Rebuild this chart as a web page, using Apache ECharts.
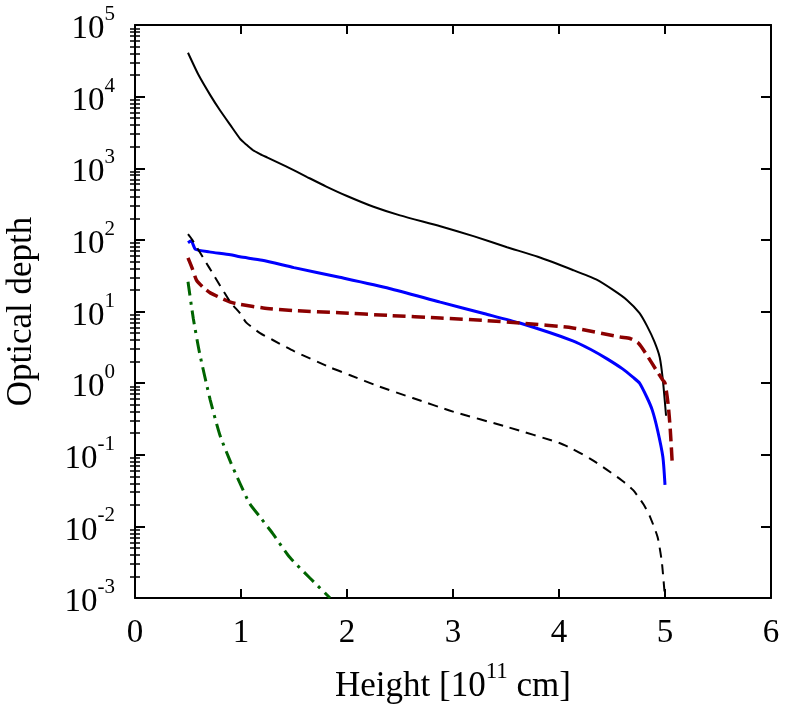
<!DOCTYPE html>
<html>
<head>
<meta charset="utf-8">
<script src="https://cdn.jsdelivr.net/npm/echarts@6/dist/echarts.min.js"></script>
<style>
  * { margin: 0; padding: 0; }
  html, body { background: #fff; }
  #chart { width: 788px; height: 711px; }
</style>
</head>
<body>
<div id="chart"></div>
<script>
// data: [height, optical depth]
var totalSolid = [
  [0.5, 41000], [0.6, 20000], [0.71, 10500], [0.8, 6500], [0.9, 4000],
  [0.99, 2600], [1.05, 2140], [1.11, 1800], [1.18, 1580], [1.25, 1410],
  [1.42, 1070], [1.62, 760], [1.8, 560], [2.0, 410], [2.25, 290],
  [2.5, 220], [2.88, 155], [3.2, 112], [3.51, 79], [3.8, 58], [4.13, 38],
  [4.35, 28], [4.51, 20], [4.64, 14.5], [4.76, 9.5], [4.83, 6.3],
  [4.9, 3.8], [4.95, 2.3], [4.98, 1.1], [5.01, 0.35]
];
var blueLine = [
  [0.5, 91], [0.53, 97], [0.57, 74], [0.7, 68], [0.9, 62], [0.99, 58],
  [1.2, 52], [1.5, 41], [1.93, 30], [2.4, 21], [2.88, 13.5], [3.3, 9.3],
  [3.63, 6.9], [4.13, 3.9], [4.3, 2.95], [4.45, 2.2], [4.6, 1.58],
  [4.7, 1.2], [4.76, 1.0], [4.83, 0.63], [4.88, 0.42], [4.93, 0.22],
  [4.98, 0.093], [5.0, 0.038]
];
var redDashed = [
  [0.5, 56], [0.54, 40], [0.58, 27.5], [0.64, 22], [0.71, 18.2],
  [0.9, 13.5], [0.99, 12.6], [1.21, 11.2], [1.5, 10.3], [1.93, 9.6],
  [2.4, 8.8], [2.88, 8.1], [3.3, 7.5], [3.63, 6.9], [4.13, 5.9],
  [4.58, 4.4], [4.67, 4.2], [4.75, 3.6], [4.83, 2.45], [4.92, 1.5],
  [4.98, 1.1], [5.0, 1.0], [5.03, 0.5], [5.05, 0.22], [5.07, 0.069]
];
var blackDashed = [
  [0.5, 120], [0.54, 100], [0.7, 41], [0.9, 13.5], [0.99, 9.5],
  [1.05, 7.0], [1.18, 5.0], [1.3, 4.0], [1.5, 2.8], [1.84, 1.66],
  [2.03, 1.29], [2.3, 0.9], [2.62, 0.62], [3.0, 0.40], [3.51, 0.245],
  [4.01, 0.145], [4.13, 0.12], [4.3, 0.087], [4.45, 0.062], [4.6, 0.043],
  [4.7, 0.032], [4.8, 0.02], [4.86, 0.0135], [4.93, 0.0071],
  [4.97, 0.0032], [5.0, 0.001]
];
var greenDashDot = [
  [0.5, 26], [0.55, 8], [0.61, 2.6], [0.71, 0.58], [0.8, 0.19],
  [0.9, 0.08], [0.99, 0.04], [1.08, 0.021], [1.18, 0.0135],
  [1.3, 0.0079], [1.46, 0.0037], [1.65, 0.0019], [1.84, 0.001]
];

var yMin = 1e-3, yMax = 1e5;
var xMin = 0, xMax = 6;

var font = "Liberation Serif";
// minor ticks 2..9 of each decade, as exponents on a hidden linear axis
var expMin = Math.log10(yMin), expMax = Math.log10(yMax);
var minorVals = [];
for (var e = expMin; e < expMax; e++) {
  for (var m = 2; m < 10; m++) minorVals.push(e + Math.log10(m));
}

var rich = {
  b: { fontFamily: font, fontSize: 33, color: "#000", lineHeight: 42, verticalAlign: "bottom" },
  s: { fontFamily: font, fontSize: 21, color: "#000", lineHeight: 21, verticalAlign: "top" }
};

function yAxisBase(pos) {
  return {
    type: "log", logBase: 10, min: yMin, max: yMax, position: pos,
    splitLine: { show: false },
    axisLine: { show: true, onZero: false, lineStyle: { color: "#000", width: 2 } },
    axisTick: { show: true, inside: true, length: 10, lineStyle: { color: "#000", width: 2 } },
    axisLabel: { show: false }
  };
}
function yMinorAxis(pos) {
  return {
    type: "value", min: expMin, max: expMax, position: pos,
    splitLine: { show: false },
    axisLine: { show: false },
    axisTick: { show: true, inside: true, length: 5, customValues: minorVals,
      lineStyle: { color: "#000", width: 1.5 } },
    axisLabel: { show: false }
  };
}

var chart = echarts.init(document.getElementById("chart"));

var yLeft = yAxisBase("left");
yLeft.axisLabel = {
  show: true, margin: 20,
  formatter: function (v) {
    return "{b|10}{s|" + Math.round(Math.log10(v)) + "}";
  },
  rich: rich
};
yLeft.name = "Optical depth";
yLeft.nameLocation = "middle";
yLeft.nameGap = 96;
yLeft.nameTextStyle = { fontFamily: font, fontSize: 35, color: "#000" };

var yRight = yAxisBase("right");

function xAxisBase(pos) {
  return {
    type: "value", min: xMin, max: xMax, interval: 1, position: pos,
    splitLine: { show: false },
    axisLine: { show: true, onZero: false, lineStyle: { color: "#000", width: 2 } },
    axisTick: { show: true, inside: true, length: 9, lineStyle: { color: "#000", width: 2 } },
    axisLabel: { show: false }
  };
}
var xBottom = xAxisBase("bottom");
xBottom.axisLabel = { show: true, margin: 19, fontFamily: font, fontSize: 33, color: "#000" };
xBottom.name = "{a|Height [10}{s|11}{a| cm]}";
xBottom.nameLocation = "middle";
xBottom.nameGap = 62;
xBottom.nameTextStyle = {
  rich: {
    a: { fontFamily: font, fontSize: 35, color: "#000", lineHeight: 44, verticalAlign: "bottom" },
    s: { fontFamily: font, fontSize: 23, color: "#000", lineHeight: 23, verticalAlign: "top" }
  }
};
var xTop = xAxisBase("top");

function lineSeries(data, color, width, dash) {
  return {
    type: "line", data: data, xAxisIndex: 0, yAxisIndex: 0,
    showSymbol: false, symbol: "none", smooth: 0.2,
    clip: true, animation: false,
    lineStyle: { color: color, width: width, type: dash || "solid" }
  };
}

chart.setOption({
  backgroundColor: "#fff",
  animation: false,
  grid: { left: 135, right: 17, top: 25, bottom: 113, containLabel: false, outerBoundsMode: "none" },
  xAxis: [xBottom, xTop],
  yAxis: [yLeft, yRight, yMinorAxis("left"), yMinorAxis("right")],
  series: [
    lineSeries(totalSolid, "#000000", 2),
    lineSeries(blueLine, "#0000ff", 3),
    lineSeries(redDashed, "#8b0000", 3.5, [13, 6]),
    lineSeries(blackDashed, "#000000", 2, [10, 7]),
    lineSeries(greenDashDot, "#006400", 3, [14, 6, 3, 6])
  ]
});
</script>
</body>
</html>
